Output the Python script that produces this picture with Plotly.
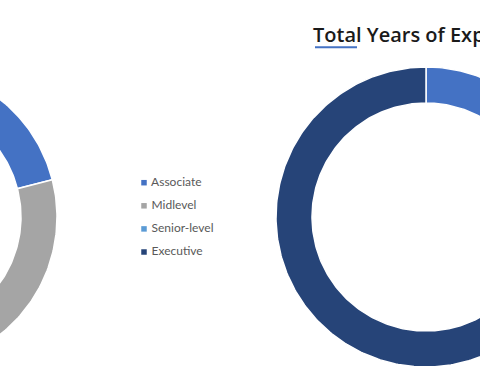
import numpy as np
import plotly.graph_objects as go

# ---- data ----
categories = ["Associate", "Midlevel", "Senior-level", "Executive"]
colors = ["#4472C4", "#A5A5A5", "#5B9BD5", "#264478"]
left_values = [21, 35, 14, 30]      # left donut (partly off-frame)
right_values = [12, 10, 8, 70]      # "Total Years of Experience" donut
title_text = "Total Years of Experience"

W, H = 480, 380
R_OUT, R_IN = 150, 114


def ring_slices(values, cx, cy, name_prefix):
    traces = []
    vals = np.asarray(values, dtype=float)
    fr = np.concatenate([[0], np.cumsum(vals)]) / vals.sum()
    for i, cat in enumerate(categories):
        a0, a1 = fr[i] * 2 * np.pi, fr[i + 1] * 2 * np.pi
        if a1 - a0 <= 0:
            continue
        n = max(int((a1 - a0) / (2 * np.pi) * 360), 2)
        th = np.linspace(a0, a1, n)
        xo = cx + R_OUT * np.sin(th)
        yo = cy - R_OUT * np.cos(th)
        xi = cx + R_IN * np.sin(th[::-1])
        yi = cy - R_IN * np.cos(th[::-1])
        xs = np.concatenate([xo, xi, xo[:1]])
        ys = np.concatenate([yo, yi, yo[:1]])
        traces.append(go.Scatter(
            x=xs, y=ys, mode="lines", fill="toself",
            fillcolor=colors[i], line=dict(color="white", width=1.5),
            name=f"{name_prefix} {cat}", showlegend=False, hoverinfo="skip"))
    return traces


fig = go.Figure()
for t in ring_slices(left_values, -93, 217, "Left"):
    fig.add_trace(t)
for t in ring_slices(right_values, 426, 217, "Right"):
    fig.add_trace(t)

# legend drawn as marker + text entries
fig.add_trace(go.Scatter(
    x=[144] * len(categories),
    y=[182.7 + 23.1 * i for i in range(len(categories))],
    mode="markers+text",
    marker=dict(symbol="square", size=5.5, color=colors, line=dict(width=0)),
    text=[" " + c for c in categories], textposition="middle right",
    textfont=dict(family="Lato, Open Sans, sans-serif", size=12, color="#595959"),
    showlegend=False, hoverinfo="skip", cliponaxis=False))

fig.add_annotation(
    x=311, y=34.5, xref="x", yref="y", text=title_text, showarrow=False,
    xanchor="left", yanchor="middle",
    font=dict(family="Open Sans, sans-serif", size=20, color="#1a1a1a",
              weight=600))

fig.add_shape(type="line", x0=315, x1=357, y0=47.3, y1=47.3, xref="x", yref="y",
              line=dict(color="#4472C4", width=2))

fig.update_layout(
    width=W, height=H, margin=dict(l=0, r=0, t=0, b=0),
    paper_bgcolor="white", plot_bgcolor="white",
    xaxis=dict(range=[0, W], visible=False, fixedrange=True),
    yaxis=dict(range=[H, 0], visible=False, fixedrange=True),
)

fig.write_html(
    "out.html",
    config={"displayModeBar": False, "staticPlot": True},
    post_script="document.body.style.margin='0';document.body.style.overflow='hidden';",
)
